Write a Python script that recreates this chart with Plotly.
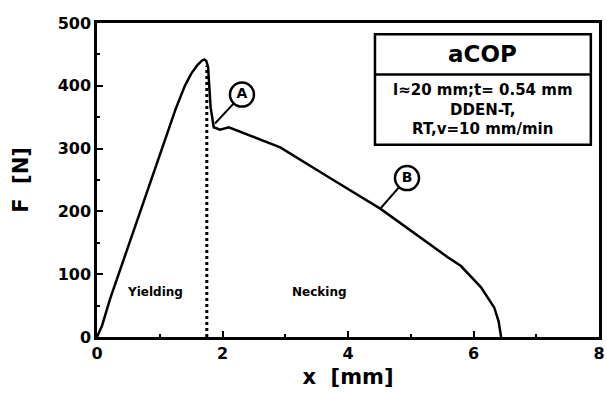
import plotly.graph_objects as go

# Force-displacement curve (x in mm, F in N)
x_mm = [0, 0.08, 0.21, 0.58, 0.95, 1.15, 1.25, 1.40, 1.50, 1.60, 1.67, 1.71, 1.74, 1.77, 1.81, 1.86,
        1.96, 2.10, 2.92, 3.70, 4.52, 5.59, 5.80, 6.12, 6.33, 6.40, 6.44]
F_N = [0, 18, 61, 169, 276, 334, 362, 400, 419, 433, 440, 442, 440, 430, 366, 334,
       330, 334, 302, 254, 204, 127, 113, 79, 47, 25, 0]

# Boundary between yielding and necking
x_boundary = [1.75, 1.75]
F_boundary = [0, 432]

# Region labels
region_labels = ["Yielding", "Necking"]
region_x = [0.92, 3.55]
region_y = [72, 72]

# Callouts
callout_labels = ["A", "B"]
callout_x = [2.31, 4.94]
callout_y = [386, 253]
callout_tip_x = [1.88, 4.52]
callout_tip_y = [340, 205]

# Info box
box_title = "aCOP"
box_lines = ["l≈20 mm;t= 0.54 mm", "DDEN-T,", "RT,v=10 mm/min"]

x_ticks = [0, 2, 4, 6, 8]
y_ticks = [0, 100, 200, 300, 400, 500]

FONT = "DejaVu Sans"

fig = go.Figure()

fig.add_trace(go.Scatter(x=x_boundary, y=F_boundary, mode="lines",
                         line=dict(color="black", width=3, dash="3px,3px"),
                         hoverinfo="skip", showlegend=False))

fig.add_trace(go.Scatter(x=x_mm, y=F_N, mode="lines",
                         line=dict(color="black", width=2.5),
                         showlegend=False))

for lbl, cx, cy, tx, ty in zip(callout_labels, callout_x, callout_y, callout_tip_x, callout_tip_y):
    fig.add_trace(go.Scatter(x=[tx, cx], y=[ty, cy], mode="lines",
                             line=dict(color="black", width=2),
                             hoverinfo="skip", showlegend=False))
    fig.add_trace(go.Scatter(x=[cx], y=[cy], mode="markers+text",
                             marker=dict(size=24, color="white",
                                         line=dict(color="black", width=2.5)),
                             text=[lbl], textposition="middle center",
                             textfont=dict(family=FONT, size=14, color="black", weight="bold"),
                             hoverinfo="skip", showlegend=False))

for lbl, rx, ry in zip(region_labels, region_x, region_y):
    fig.add_annotation(x=rx, y=ry, text=lbl, showarrow=False,
                       font=dict(family=FONT, size=12, color="black", weight="bold"))

# Info box
bx0, bx1, by0, by1, bsep = 4.43, 7.87, 306, 482, 418
fig.add_shape(type="rect", x0=bx0, x1=bx1, y0=by0, y1=by1,
              line=dict(color="black", width=2.5), fillcolor="white", layer="below")
fig.add_shape(type="line", x0=bx0, x1=bx1, y0=bsep, y1=bsep,
              line=dict(color="black", width=2.5))
fig.add_annotation(x=(bx0 + bx1) / 2, y=(by1 + bsep) / 2, text=box_title, showarrow=False,
                   font=dict(family=FONT, size=23, color="black", weight="bold"))
fig.add_annotation(x=(bx0 + bx1) / 2, y=(bsep + by0) / 2, text="<br>".join(box_lines),
                   showarrow=False, align="center",
                   font=dict(family=FONT, size=15, color="black", weight="bold"))

axis_common = dict(
    showline=True, linecolor="black", linewidth=2.5, mirror=True,
    ticks="inside", ticklen=6, tickwidth=2, tickcolor="black",
    showgrid=False, zeroline=False, automargin=False,
    tickfont=dict(family=FONT, size=16, color="black", weight="bold"),
)

fig.update_xaxes(range=[0, 8], tickvals=x_ticks,
                 minor=dict(dtick=1, ticks="inside", ticklen=3, tickwidth=1.5, tickcolor="black"),
                 title=dict(text="x  [mm]", standoff=8,
                            font=dict(family=FONT, size=21, color="black", weight="bold")),
                 **axis_common)
fig.update_yaxes(range=[0, 500], tickvals=y_ticks,
                 minor=dict(dtick=50, ticks="inside", ticklen=3, tickwidth=1.5, tickcolor="black"),
                 title=dict(text="F  [N]", standoff=24,
                            font=dict(family=FONT, size=21, color="black", weight="bold")),
                 **axis_common)

fig.update_layout(width=607, height=396,
                  margin=dict(l=97, r=8, t=23, b=59),
                  plot_bgcolor="white", paper_bgcolor="white")

fig.write_html("out.html", config={"displayModeBar": False},
               post_script="document.body.style.margin='0';")
